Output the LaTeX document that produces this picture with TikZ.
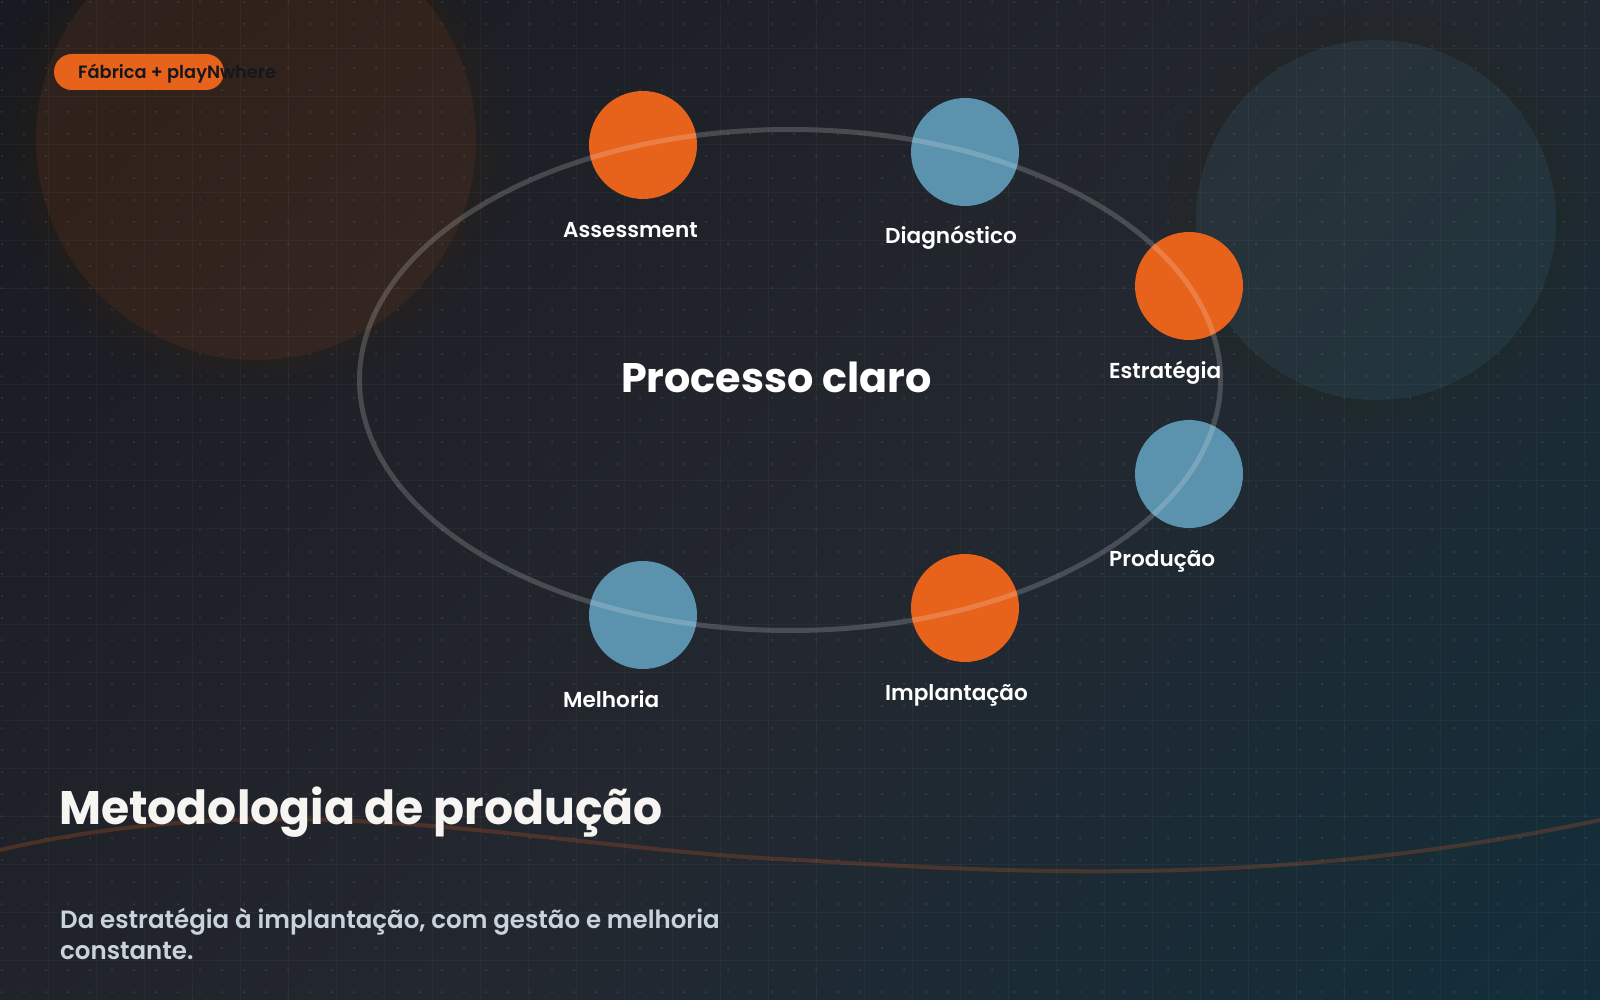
\documentclass[tikz,border=0pt]{standalone}
\usepackage{fontspec}
\setmainfont{Poppins}[UprightFont=* SemiBold,BoldFont=* Bold]
\usetikzlibrary{shapes.geometric}
\definecolor{accent}{HTML}{E7621B}
\definecolor{steel}{HTML}{5B92AE}
\definecolor{ink}{HTML}{14171C}
\definecolor{soft}{HTML}{C9D3DC}
\definecolor{paper}{HTML}{F6F5F2}
\definecolor{bgA}{HTML}{12151A}
\definecolor{bgB}{HTML}{20232A}
\definecolor{bgD}{HTML}{23272F}
\definecolor{bgC}{HTML}{0B3240}
\definecolor{cool}{HTML}{4A90C4}
\pgfdeclarehorizontalshading{backgrad}{100bp}{color(0bp)=(bgA);color(42bp)=(bgB);color(54bp)=(bgD);color(100bp)=(bgC)}
\tikzset{
  stage/.style={circle,inner sep=0pt,outer sep=0pt,minimum size=108pt},
  tag/.style={anchor=base west,inner sep=0pt,text=white,font=\fontsize{21.6}{26}\selectfont},
  line/.style={anchor=base west,inner sep=0pt,text=soft,font=\fontsize{25}{30}\selectfont\addfontfeature{FakeStretch=0.98}},
}
\begin{document}
\begin{tikzpicture}[x=1pt,y=-1pt]
\useasboundingbox (0,0) rectangle (1600,1000);
\fill[shading=backgrad,shading angle=-45] (0,0) rectangle (1600,1000);
% glows
\foreach \r in {6,12,...,36} {
  \fill[accent,opacity=0.006] (256,140) circle (220+\r);
  \fill[accent,opacity=0.004] (1376,220) circle (180+\r);
}
\fill[accent,opacity=0.085] (256,140) circle (220);
\fill[cool,opacity=0.11] (1376,220) circle (180);
% grid and dots
\foreach \i in {1,...,33} { \draw[white,opacity=0.035] (48*\i,0) -- (48*\i,1000); }
\foreach \j in {1,...,20} { \draw[white,opacity=0.035] (0,48*\j) -- (1600,48*\j); }
\fill[white,opacity=0.13]
  \foreach \i in {0,...,72} { \foreach \j in {0,...,45} { (2+22*\i,2+22*\j) circle (1) } };
% wave
\draw[accent,opacity=0.22,line width=4pt] (0,850) .. controls (300,780) and (550,850) .. (800,860) .. controls (1050,876) and (1300,884) .. (1600,820);
% stages
\node[stage,fill=accent] (A) at (643,145) {};
\node[stage,fill=steel] (B) at (965,152) {};
\node[stage,fill=accent] (C) at (1189,286) {};
\node[stage,fill=steel] (D) at (1189,474) {};
\node[stage,fill=accent] (E) at (965,608) {};
\node[stage,fill=steel] (F) at (643,615) {};
\node[tag] (a) at (563,238) {Assessment};
\node[tag] (b) at (885,244) {Diagnóstico};
\node[tag] (c) at (1109,378) {Estratégia};
\node[tag] (d) at (1109,566) {Produção};
\node[tag] (e) at (885,700) {Implantação};
\node[tag] (f) at (563,707) {Melhoria};
\node[ellipse,draw=white,draw opacity=0.18,line width=5pt,inner sep=0pt,outer sep=0pt,minimum width=861pt,minimum height=501pt] (O) at (790,380) {};
\node[anchor=base west,inner sep=0pt,text=white,font=\fontsize{41.3}{50}\selectfont\bfseries] (T) at (621,392) {Processo claro};
% pill
\fill[accent,rounded corners=18pt] (54,54) rectangle (224,90);
\node[anchor=base west,inner sep=0pt,text=ink,font=\fontsize{17.8}{22}\selectfont] (P) at (78,79) {Fábrica + playNwhere};
% footer
\node[anchor=base west,inner sep=0pt,text=paper,font=\fontsize{47}{56}\selectfont\bfseries\addfontfeature{FakeStretch=0.972}] (H) at (59,824) {Metodologia de produção};
\node[line] (S) at (60,928) {Da estratégia à implantação, com gestão e melhoria};
\node[line] (S2) at (60,959) {constante.};
\end{tikzpicture}
\end{document}
